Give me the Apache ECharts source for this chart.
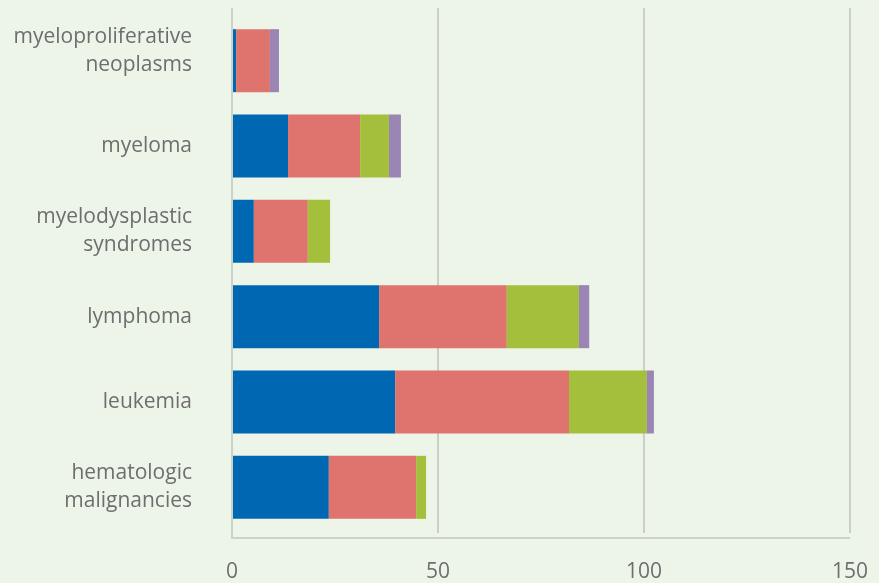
<!DOCTYPE html>
<html><head><meta charset="utf-8">
<script src="https://cdn.jsdelivr.net/npm/echarts@6/dist/echarts.min.js"></script>
<style>html,body{margin:0;padding:0;background:#EDF4E8;}#c{width:879px;height:583px;}</style>
</head><body><div id="c"></div>
<script>
const categories = ["myeloproliferative\nneoplasms","myeloma","myelodysplastic\nsyndromes","lymphoma","leukemia","hematologic\nmalignancies"];
const seriesBlue   = [1.0, 13.6, 5.3, 35.7, 39.6, 23.5];
const seriesRed    = [8.2, 17.5, 13.1, 31.0, 42.2, 21.2];
const seriesGreen  = [0, 7.0, 5.4, 17.5, 18.9, 2.4];
const seriesPurple = [2.2, 2.9, 0, 2.5, 1.7, 0];
const xTicks = [0, 50, 100, 150];

const colors = ["#0068B2","#DF736E","#A3BF3B","#9B85B5"];
const chart = echarts.init(document.getElementById('c'));
const font = '"Open Sans", "Noto Sans", sans-serif';
function mk(name, data, color){
  return {type:'bar', name, stack:'s', data, xAxisIndex:1, yAxisIndex:1,
    barWidth:63, itemStyle:{color}, emphasis:{disabled:true}};
}
chart.setOption({
  backgroundColor:'#EDF4E8',
  animation:false,
  grid:[
    {left:232, right:29, top:8, bottom:44},
    {left:232, right:29, top:18, bottom:53}
  ],
  xAxis:[
    {gridIndex:0, type:'value', min:xTicks[0], max:xTicks[xTicks.length-1], interval:50,
     axisLine:{show:false}, axisTick:{show:false},
     splitLine:{show:true, lineStyle:{color:'#BFC3BB', width:1.5}},
     axisLabel:{color:'#6E6E6E', fontSize:21, fontFamily:font, margin:29}},
    {gridIndex:1, type:'value', min:0, max:150, show:false}
  ],
  yAxis:[
    {gridIndex:0, type:'category', data:categories, inverse:true,
     axisLine:{show:false}, axisTick:{show:false}, axisLabel:{show:false}, splitLine:{show:false}},
    {gridIndex:1, type:'category', data:categories, inverse:true,
     axisLine:{show:false}, axisTick:{show:false},
     axisLabel:{color:'#6E6E6E', fontSize:21, fontFamily:font, lineHeight:28, margin:40, align:'right',
       formatter:(v,i)=> i===0 ? v.split('\n').map(s=>'{a|'+s+'}').join('\n')+'\n{b| }' : v,
       rich:{a:{color:'#6E6E6E', fontSize:21, fontFamily:font, lineHeight:28, align:'right'},
             b:{fontSize:10, lineHeight:19}}}}
  ],
  series:[
    mk('blue', seriesBlue, colors[0]),
    mk('red', seriesRed, colors[1]),
    mk('green', seriesGreen, colors[2]),
    mk('purple', seriesPurple, colors[3])
  ]
});
</script>
<div style="position:absolute;left:232px;top:537px;width:618px;height:2px;background:#CDD2C9;"></div>
<div style="position:absolute;left:231px;top:8px;width:2px;height:531px;background:#CDD2C9;"></div>
</body></html>
